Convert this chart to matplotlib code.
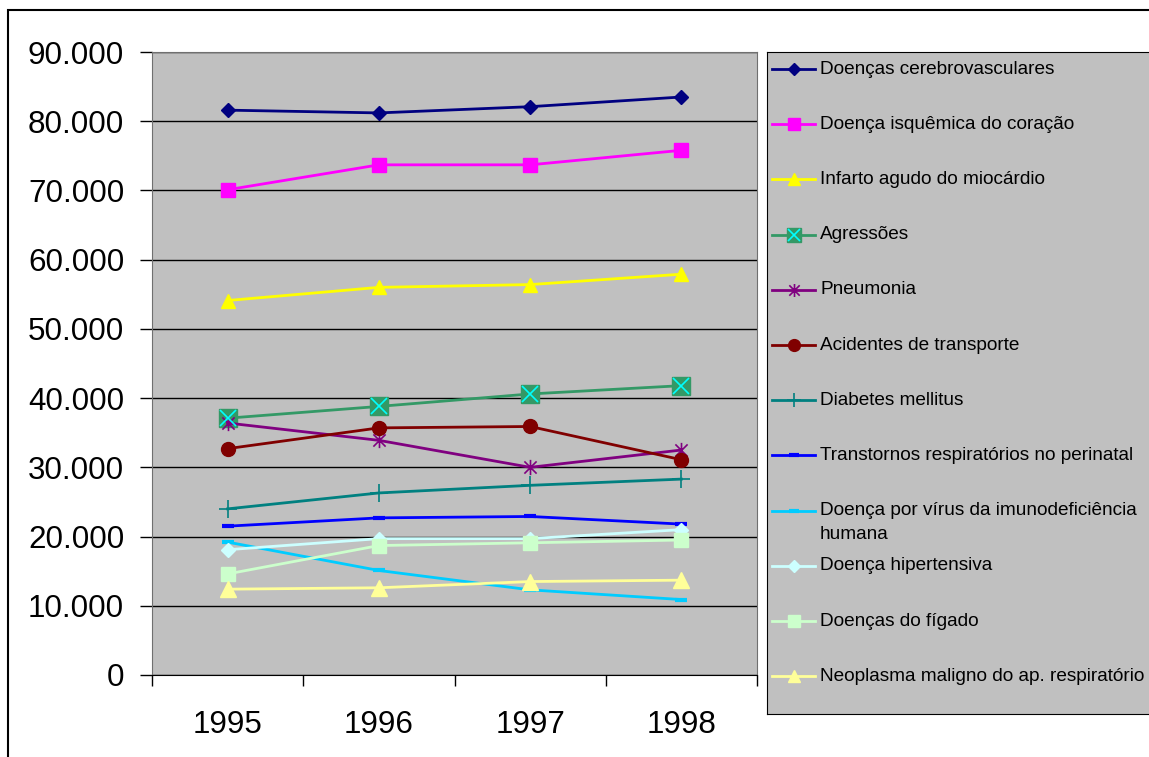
import matplotlib.pyplot as plt
from matplotlib.path import Path
from matplotlib.lines import Line2D
from matplotlib.patches import Rectangle
from matplotlib.ticker import FuncFormatter, FixedLocator

plt.rcParams['font.family'] = ['Liberation Sans', 'DejaVu Sans']

years = ['1995', '1996', '1997', '1998']

causes = [
    'Doenças cerebrovasculares',
    'Doença isquêmica do coração',
    'Infarto agudo do miocárdio',
    'Agressões',
    'Pneumonia',
    'Acidentes de transporte',
    'Diabetes mellitus',
    'Transtornos respiratórios no perinatal',
    'Doença por vírus da imunodeficiência\nhumana',
    'Doença hipertensiva',
    'Doenças do fígado',
    'Neoplasma maligno do ap. respiratório',
]

cerebrovasculares = [81600, 81200, 82100, 83500]
isquemica = [70100, 73700, 73700, 75800]
infarto = [54100, 56000, 56400, 57900]
agressoes = [37100, 38800, 40600, 41800]
pneumonia = [36400, 33900, 30000, 32500]
acidentes = [32700, 35700, 35900, 31100]
diabetes = [24000, 26300, 27400, 28300]
transtornos = [21500, 22700, 22900, 21800]
hiv = [19200, 15100, 12300, 10900]
hipertensiva = [18100, 19700, 19700, 21000]
figado = [14600, 18700, 19100, 19500]
neoplasma = [12400, 12600, 13500, 13700]

series = [cerebrovasculares, isquemica, infarto, agressoes, pneumonia, acidentes,
          diabetes, transtornos, hiv, hipertensiva, figado, neoplasma]

# asterisk made of a vertical stroke and an X
asterisk = Path([(0, -1), (0, 1), (-0.8, -0.8), (0.8, 0.8), (-0.8, 0.8), (0.8, -0.8)],
                [Path.MOVETO, Path.LINETO, Path.MOVETO, Path.LINETO, Path.MOVETO, Path.LINETO])

styles = [
    dict(color='#000080', marker='D', ms=7.5, mfc='#000080', mec='#000080'),
    dict(color='#FF00FF', marker='s', ms=9.5, mfc='#FF00FF', mec='#FF00FF'),
    dict(color='#FFFF00', marker='^', ms=10.5, mfc='#FFFF00', mec='#FFFF00'),
    dict(color='#339966', marker='s', ms=13, mfc='#339966', mec='#339966'),
    dict(color='#800080', marker=asterisk, ms=11, mfc='none', mec='#800080', mew=1.2),
    dict(color='#800000', marker='o', ms=10, mfc='#800000', mec='#800000'),
    dict(color='#008080', marker='+', ms=13, mec='#008080', mew=1.2),
    dict(color='#0000FF', marker='_', ms=8, mec='#0000FF', mew=3),
    dict(color='#00CCFF', marker='_', ms=8, mec='#00CCFF', mew=3),
    dict(color='#CCFFFF', marker='D', ms=7.5, mfc='#CCFFFF', mec='#CCFFFF'),
    dict(color='#CCFFCC', marker='s', ms=10.5, mfc='#CCFFCC', mec='#CCFFCC'),
    dict(color='#FFFF99', marker='^', ms=11, mfc='#FFFF99', mec='#FFFF99'),
]

W, H = 1149, 757
fig = plt.figure(figsize=(W / 100, H / 100), dpi=100)

# outer chart frame (only the top and left edges fall inside the image)
fig.patches.append(Rectangle((8 / W, -0.1), 1.2, (H - 10) / H + 0.1,
                             transform=fig.transFigure, fill=False,
                             edgecolor='black', lw=1.5))

ax = fig.add_axes([152 / W, (H - 675) / H, 605 / W, 623 / H])
ax.set_facecolor('#C0C0C0')

x = list(range(len(years)))
for vals, st in zip(series, styles):
    ax.plot(x, vals, lw=2, zorder=3, **st)
# the cyan cross drawn over the Agressões squares
ax.plot(x, agressoes, ls='none', marker='x', ms=12, mec='#00FFFF', mew=1.2, zorder=4)

ax.set_xlim(-0.5, 3.5)
ax.set_ylim(0, 90000)
ax.set_yticks(range(0, 90001, 10000))
ax.yaxis.set_major_formatter(FuncFormatter(lambda v, p: f'{int(v):,}'.replace(',', '.')))
ax.grid(axis='y', color='black', lw=1)
ax.set_axisbelow(True)

ax.xaxis.set_major_locator(FixedLocator([-0.5, 0.5, 1.5, 2.5, 3.5]))
ax.xaxis.set_minor_locator(FixedLocator(x))
ax.set_xticklabels([], minor=False)
ax.set_xticklabels(years, minor=True)
ax.tick_params(axis='x', which='major', direction='out', length=8, width=1)
ax.tick_params(axis='x', which='minor', length=0, pad=25, labelsize=22.6)
ax.tick_params(axis='y', direction='out', length=9, width=1, pad=11, labelsize=22.6)

for side in ['top', 'right', 'left']:
    ax.spines[side].set_color('#707070')
ax.spines['bottom'].set_color('black')

# legend box
lg = fig.add_axes([767 / W, (H - 714) / H, 400 / W, 662 / H])
lg.set_facecolor('#C0C0C0')
lg.set_xlim(0, 400)
lg.set_ylim(662, 0)
lg.set_xticks([])
lg.set_yticks([])
for sp in lg.spines.values():
    sp.set_color('black')

row0, step = 17, 55.2
for i, (label, st) in enumerate(zip(causes, styles)):
    yy = row0 + i * step
    kw = {k: v for k, v in st.items() if k != 'ms'}
    lg.add_line(Line2D([5, 26.5, 48], [yy, yy, yy], lw=2, markevery=[1],
                       ms=min(st['ms'] * 0.85, 10), **kw))
    if i == 3:
        lg.add_line(Line2D([26.5], [yy], ls='none', marker='x', ms=9, mec='#00FFFF', mew=1.2))
    for k, part in enumerate(label.split('\n')):
        lg.text(53, yy + k * 24, part, fontsize=13.7, va='center', ha='left')

fig.savefig('out.png', dpi=100)
